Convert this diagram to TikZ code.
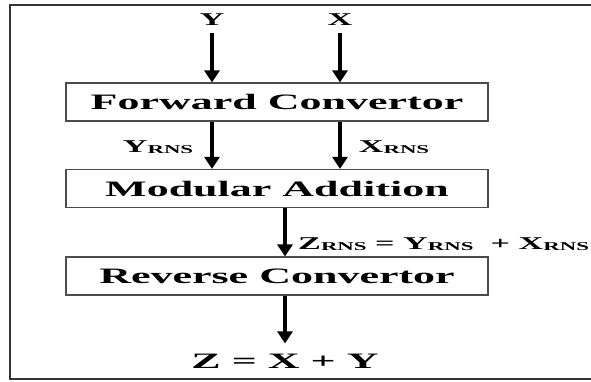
\documentclass[tikz,border=0pt]{standalone}
\usepackage{fontspec}
\setmainfont{Liberation Serif}
\usepackage{graphicx}
\usetikzlibrary{arrows.meta}
\newcommand{\sx}[1]{\scalebox{1.9}[1]{#1}}
\newcommand{\sxx}[1]{\scalebox{2.0}[1]{#1}}
\newcommand{\rns}{\raisebox{-1pt}{\fontsize{12}{12}\selectfont RNS}}
\begin{document}
\begin{tikzpicture}[x=1pt,y=-1pt,
  box/.style={draw=black!70, line width=1.2pt, minimum width=422pt, minimum height=38pt, inner sep=0pt, font=\fontsize{22}{22}\selectfont\bfseries},
  lab/.style={inner sep=0pt, anchor=base, font=\fontsize{18}{18}\selectfont\bfseries},
  arr/.style={line width=3.5pt, -{Triangle[width=15pt,length=12pt]}},
  frame/.style={draw=black!80, line width=2.5pt}]
\useasboundingbox (0,0) rectangle (591,381);
\draw[frame] (591,5) -- (10,5) -- (10,379) -- (591,379);
\node[box] (fwd) at (277,102) {\sxx{Forward Convertor}};
\node[box] (mod) at (277,188.5) {\sxx{Modular Addition}};
\node[box] (rev) at (277,276) {\sxx{Reverse Convertor}};
\node[lab] (Y) at (212,25) {\sx{Y}};
\node[lab] (X) at (340,25) {\sx{X}};
\node[lab] (Yr) at (158,152) {\sx{Y\rns}};
\node[lab] (Xr) at (394,152) {\sx{X\rns}};
\node[lab, anchor=base west] (Zr) at (298,249) {\sx{Z\rns{} = Y\rns{}\ \ + X\rns}};
\node[lab, font=\fontsize{22}{22}\selectfont\bfseries] (Z) at (285,368) {\sxx{Z = X + Y}};
\draw[arr, shorten <=8pt] (Y.south) -- (Y.south |- fwd.north);
\draw[arr, shorten <=8pt] (X.south) -- (X.south |- fwd.north);
\draw[arr] (fwd.south -| Y) -- (mod.north -| Y);
\draw[arr] (fwd.south -| X) -- (mod.north -| X);
\draw[arr] (mod.south -| Z) -- (rev.north -| Z);
\draw[arr, shorten >=10pt] (rev.south -| Z) -- (Z.north);
\end{tikzpicture}
\end{document}
